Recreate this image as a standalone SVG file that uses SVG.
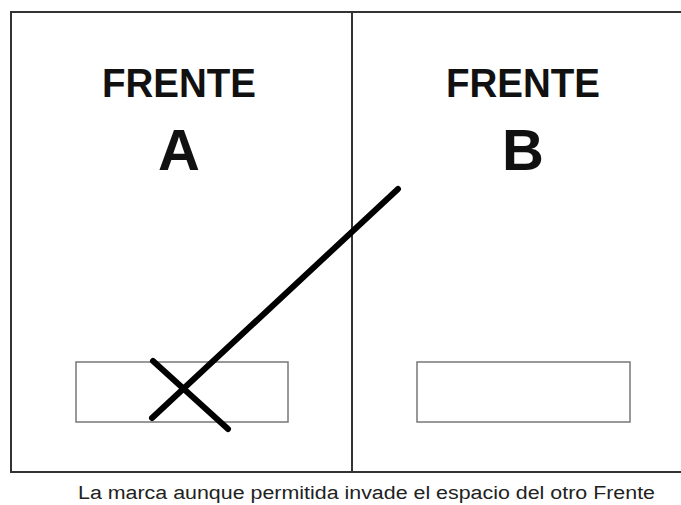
<svg xmlns="http://www.w3.org/2000/svg" width="681" height="505" viewBox="0 0 681 505">
<style>
.frame{fill:none;stroke:#333;stroke-width:2}
.slot{fill:#fff;stroke:#777;stroke-width:1.5}
.mark{stroke:#000;stroke-width:6;stroke-linecap:round;fill:none}
.title{font-family:"Liberation Sans",Arial,sans-serif;font-weight:bold;fill:#111;text-anchor:middle}
.cap{font-family:"Liberation Sans",Arial,sans-serif;fill:#222;font-size:18px}
</style>
<rect width="681" height="505" fill="#fff"/>
<g id="frame">
<path class="frame" d="M682,12 H11 V472 H682"/>
<line class="frame" x1="352" y1="12" x2="352" y2="472"/>
</g>
<g id="frente-a">
<text class="title" x="179" y="97" font-size="40" textLength="154" lengthAdjust="spacingAndGlyphs">FRENTE</text>
<text class="title" x="179" y="170" font-size="58">A</text>
<rect class="slot" x="76" y="362" width="212" height="60"/>
</g>
<g id="frente-b">
<text class="title" x="523" y="97" font-size="40" textLength="154" lengthAdjust="spacingAndGlyphs">FRENTE</text>
<text class="title" x="523" y="170" font-size="58">B</text>
<rect class="slot" x="417" y="362" width="213" height="60"/>
</g>
<g id="connectors">
<line class="mark" x1="398" y1="189" x2="152" y2="418"/>
<line class="mark" x1="153" y1="361" x2="228" y2="429"/>
</g>
<text class="cap" x="78" y="499" textLength="577" lengthAdjust="spacingAndGlyphs">La marca aunque permitida invade el espacio del otro Frente</text>
</svg>
